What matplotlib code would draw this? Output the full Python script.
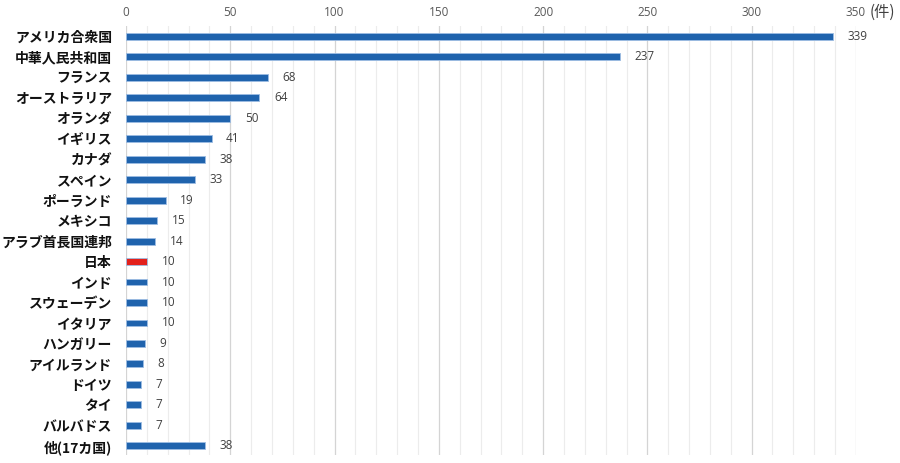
import matplotlib
matplotlib.use("Agg")
import matplotlib.pyplot as plt
from matplotlib.ticker import MultipleLocator

countries = ["アメリカ合衆国", "中華人民共和国", "フランス", "オーストラリア", "オランダ", "イギリス",
             "カナダ", "スペイン", "ポーランド", "メキシコ", "アラブ首長国連邦", "日本", "インド",
             "スウェーデン", "イタリア", "ハンガリー", "アイルランド", "ドイツ", "タイ", "バルバドス",
             "他(17カ国)"]
values = [339, 237, 68, 64, 50, 41, 38, 33, 19, 15, 14, 10, 10, 10, 10, 9, 8, 7, 7, 7, 38]
highlight = "日本"
xticks = [0, 50, 100, 150, 200, 250, 300, 350]
unit_label = "(件)"

blue = "#1f63ad"
red = "#e3201b"
colors = [red if c == highlight else blue for c in countries]

fig = plt.figure(figsize=(9, 4.63), dpi=100)
ax = fig.add_axes([0.14, 0.017, 0.811, 0.927])

ypos = list(range(len(countries)))
ax.barh(ypos, values, height=0.34, color=colors, edgecolor="#9dbde3", linewidth=0.6, zorder=3)

ax.set_xlim(0, 350)
ax.set_ylim(len(countries) - 0.55, -0.5)
ax.xaxis.tick_top()
ax.set_xticks(xticks)
ax.xaxis.set_minor_locator(MultipleLocator(10))
ax.tick_params(axis="x", which="both", length=0, pad=5, labelsize=8.5, labelcolor="#595959")
ax.grid(axis="x", which="minor", color="#ececec", linewidth=0.8, zorder=0)
ax.grid(axis="x", which="major", color="#d4d4d4", linewidth=0.9, zorder=0)
for lbl in ax.get_xticklabels():
    lbl.set_fontfamily(["Open Sans", "DejaVu Sans"])

ax.set_yticks(ypos)
ax.set_yticklabels(countries, fontfamily=["Noto Sans CJK JP", "DejaVu Sans"], fontweight="bold", fontsize=10)
ax.tick_params(axis="y", length=0, pad=10, labelcolor="#111111")

for s in ax.spines.values():
    s.set_visible(False)

for y, v in zip(ypos, values):
    ax.text(v + 7, y, str(v), va="center", ha="left", fontsize=8.5, color="#404040",
            fontfamily=["Open Sans", "DejaVu Sans"])

fig.text(0.966, 1 - 12 / 463, unit_label, va="center", ha="left", fontsize=11, color="#404040",
         fontfamily=["Noto Sans CJK JP", "DejaVu Sans"])

fig.savefig("out.png", dpi=100)
